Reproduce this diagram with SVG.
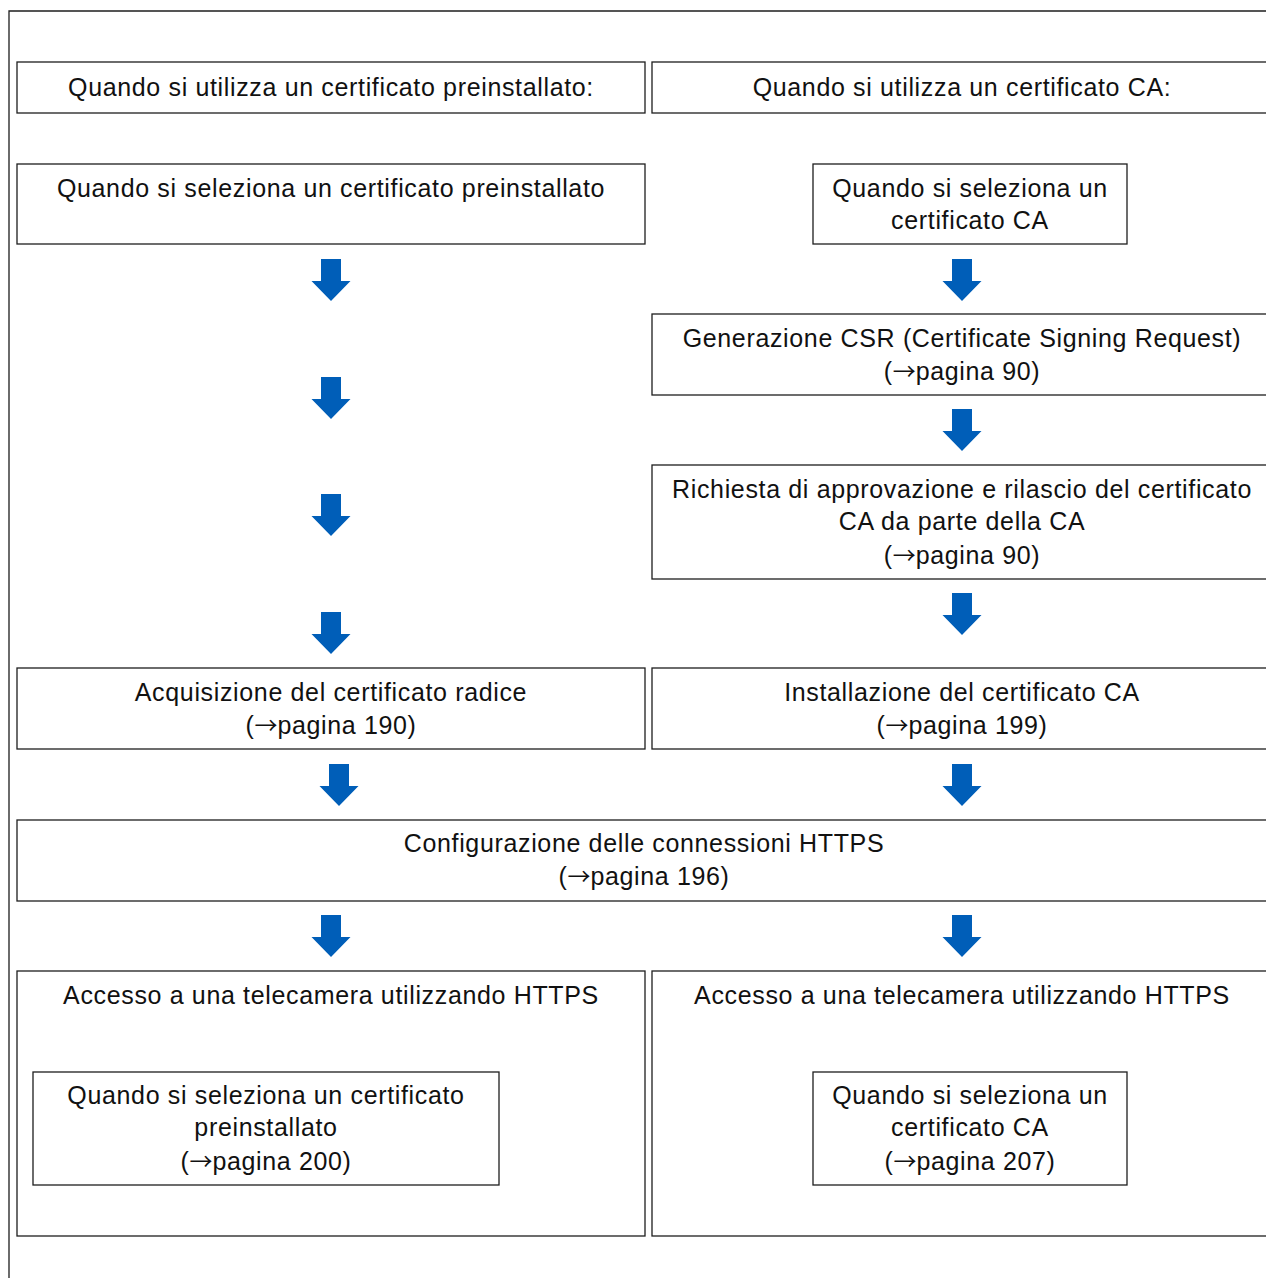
<svg xmlns="http://www.w3.org/2000/svg" width="1266" height="1278" viewBox="0 0 1266 1278">
<defs>
<style>
.box{fill:#fff;stroke:#1e1e1e;stroke-width:1.3}
.frame{fill:none;stroke:#1e1e1e;stroke-width:1.3}
text{font-family:"Liberation Sans",Arial,sans-serif;font-size:25px;fill:#111;text-anchor:middle;letter-spacing:0.65px}
.ar{font-family:"Noto Sans CJK JP","DejaVu Sans",sans-serif;font-size:23px;letter-spacing:0}
.arr{fill:#005eb8}
</style>
<path id="arrow" d="M-10,0 H10 V22 H19.5 L0,42 L-19.5,22 H-10 Z"/>
</defs>
<rect width="1266" height="1278" fill="#fff"/>
<g id="frame">
<path class="frame" d="M9,1278 V11 H1266"/>
</g>
<g id="connectors" class="arr">
<use href="#arrow" x="331" y="259"/>
<use href="#arrow" x="331" y="377"/>
<use href="#arrow" x="331" y="494"/>
<use href="#arrow" x="331" y="612"/>
<use href="#arrow" x="962" y="259"/>
<use href="#arrow" x="962" y="409"/>
<use href="#arrow" x="962" y="593"/>
<use href="#arrow" x="339" y="764"/>
<use href="#arrow" x="962" y="764"/>
<use href="#arrow" x="331" y="915"/>
<use href="#arrow" x="962" y="915"/>
</g>
<g id="hdr-pre">
<rect class="box" x="17" y="62" width="628" height="51"/>
<text x="331" y="96">Quando si utilizza un certificato preinstallato:</text>
</g>
<g id="hdr-ca">
<rect class="box" x="652" y="62" width="630" height="51"/>
<text x="962" y="96">Quando si utilizza un certificato CA:</text>
</g>
<g id="sel-pre">
<rect class="box" x="17" y="164" width="628" height="80"/>
<text x="331" y="197">Quando si seleziona un certificato preinstallato</text>
</g>
<g id="sel-ca">
<rect class="box" x="813" y="164" width="314" height="80"/>
<text x="970" y="197">Quando si seleziona un</text>
<text x="970" y="229">certificato CA</text>
</g>
<g id="csr">
<rect class="box" x="652" y="314" width="630" height="81"/>
<text x="962" y="347">Generazione CSR (Certificate Signing Request)</text>
<text x="962" y="380">(<tspan class="ar">→</tspan>pagina 90)</text>
</g>
<g id="richiesta">
<rect class="box" x="652" y="465" width="630" height="114"/>
<text x="962" y="498">Richiesta di approvazione e rilascio del certificato</text>
<text x="962" y="530">CA da parte della CA</text>
<text x="962" y="564">(<tspan class="ar">→</tspan>pagina 90)</text>
</g>
<g id="acquisizione">
<rect class="box" x="17" y="668" width="628" height="81"/>
<text x="331" y="701">Acquisizione del certificato radice</text>
<text x="331" y="734">(<tspan class="ar">→</tspan>pagina 190)</text>
</g>
<g id="installazione">
<rect class="box" x="652" y="668" width="630" height="81"/>
<text x="962" y="701">Installazione del certificato CA</text>
<text x="962" y="734">(<tspan class="ar">→</tspan>pagina 199)</text>
</g>
<g id="configurazione">
<rect class="box" x="17" y="820" width="1265" height="81"/>
<text x="644" y="852">Configurazione delle connessioni HTTPS</text>
<text x="644" y="885">(<tspan class="ar">→</tspan>pagina 196)</text>
</g>
<g id="accesso-pre">
<rect class="box" x="17" y="971" width="628" height="265"/>
<text x="331" y="1004">Accesso a una telecamera utilizzando HTTPS</text>
</g>
<g id="accesso-pre-sel">
<rect class="box" x="33" y="1072" width="466" height="113"/>
<text x="266" y="1104">Quando si seleziona un certificato</text>
<text x="266" y="1136">preinstallato</text>
<text x="266" y="1170">(<tspan class="ar">→</tspan>pagina 200)</text>
</g>
<g id="accesso-ca">
<rect class="box" x="652" y="971" width="630" height="265"/>
<text x="962" y="1004">Accesso a una telecamera utilizzando HTTPS</text>
</g>
<g id="accesso-ca-sel">
<rect class="box" x="813" y="1072" width="314" height="113"/>
<text x="970" y="1104">Quando si seleziona un</text>
<text x="970" y="1136">certificato CA</text>
<text x="970" y="1170">(<tspan class="ar">→</tspan>pagina 207)</text>
</g>
</svg>
